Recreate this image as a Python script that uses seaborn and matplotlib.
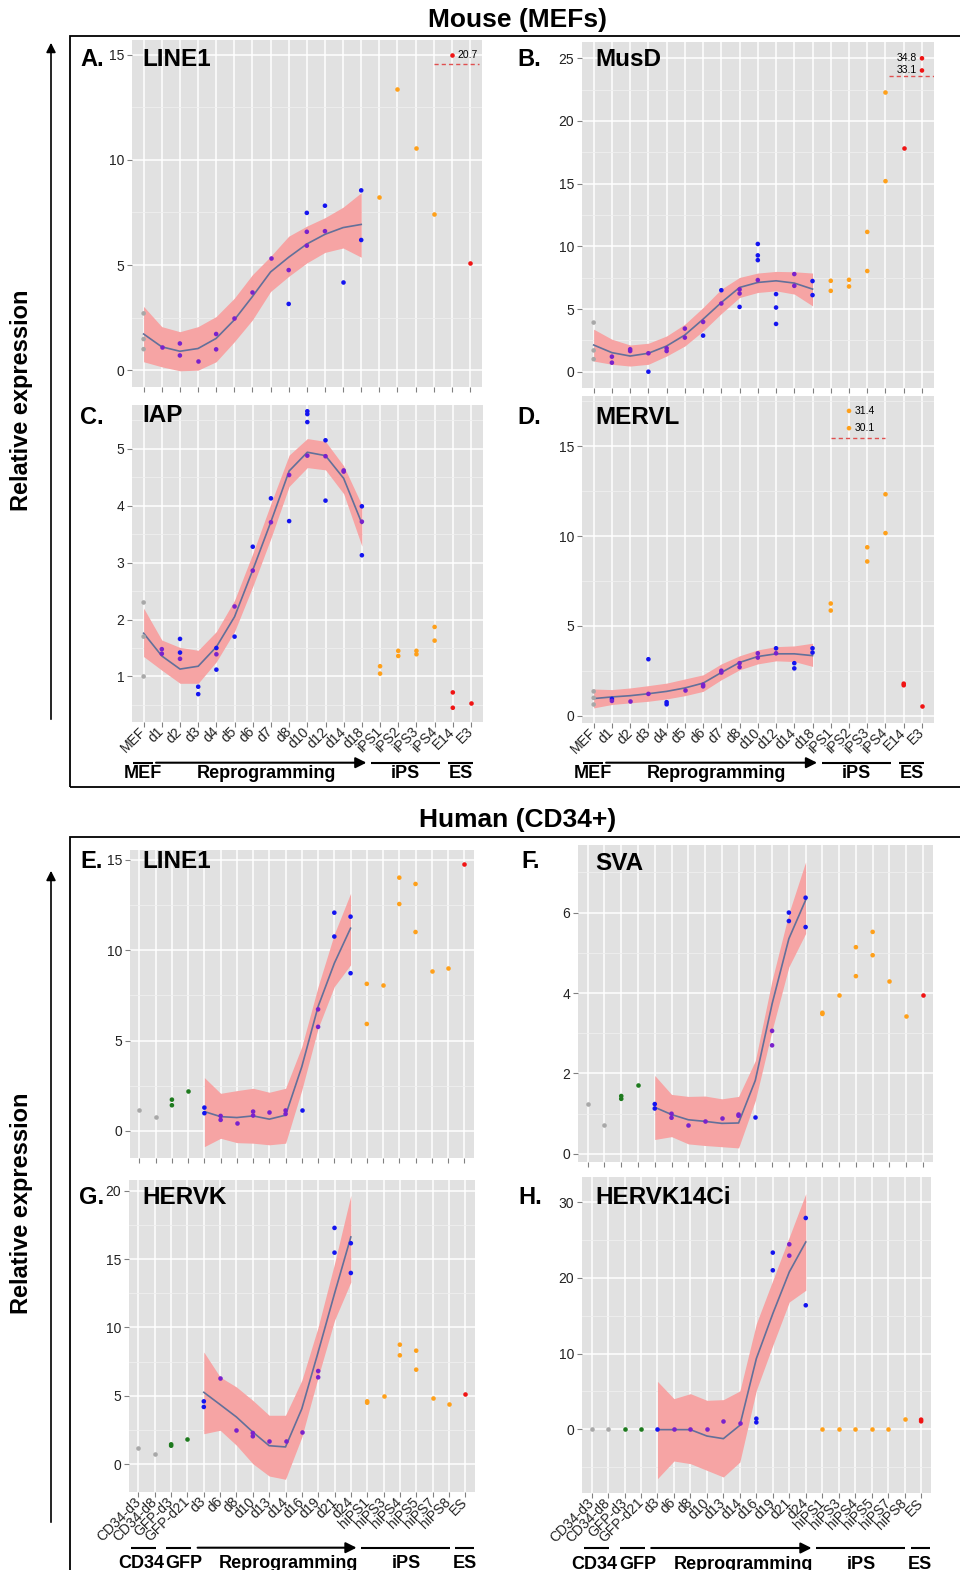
import numpy as np
import pandas as pd
import matplotlib
matplotlib.use("Agg")
import matplotlib.pyplot as plt
from matplotlib.patches import Rectangle, FancyArrowPatch
from matplotlib.ticker import MultipleLocator
import seaborn as sns

plt.rcParams['font.family'] = ['Liberation Sans', 'DejaVu Sans']

W, H = 960, 1570

mouse_cats = ["MEF", "d1", "d2", "d3", "d4", "d5", "d6", "d7", "d8", "d10", "d12",
              "d14", "d18", "iPS1", "iPS2", "iPS3", "iPS4", "E14", "E3"]
human_cats = ["CD34-d3", "CD34-d8", "GFP-d3", "GFP-d21", "d3", "d6", "d8", "d10", "d13",
              "d14", "d16", "d19", "d21", "d24", "hiPS1", "hiPS3", "hiPS4", "hiPS5",
              "hiPS7", "hiPS8", "ES"]
mouse_fit_from = "MEF"   # loess fit spans MEF..d18
human_fit_from = "d3"    # loess fit spans d3..d24

palette = {"mef": "#A8A8A8", "gfp": "#1E7A1E", "p": "#7A22CC", "b": "#1414F0",
           "ips": "#FFA01A", "es": "#F01414"}

# ---- A. LINE1 (mouse)
a_pts = [("MEF", 2.70, "mef"), ("MEF", 1.48, "mef"), ("MEF", 1.00, "mef"),
         ("d1", 1.10, "p"), ("d2", 1.27, "p"), ("d2", 0.70, "p"), ("d3", 0.45, "p"),
         ("d4", 1.72, "p"), ("d4", 0.99, "p"), ("d5", 2.47, "p"), ("d6", 3.71, "p"),
         ("d7", 5.33, "p"), ("d8", 4.76, "p"), ("d8", 3.15, "b"),
         ("d10", 7.48, "b"), ("d10", 6.58, "p"), ("d10", 5.92, "p"),
         ("d12", 7.82, "b"), ("d12", 6.61, "p"), ("d14", 4.19, "b"),
         ("d18", 8.55, "b"), ("d18", 6.19, "b"),
         ("iPS1", 8.23, "ips"), ("iPS2", 13.36, "ips"), ("iPS3", 10.56, "ips"),
         ("iPS4", 7.44, "ips"), ("E14", 15.0, "es"), ("E3", 5.10, "es")]
a_fit = [1.72, 1.11, 0.90, 1.03, 1.51, 2.39, 3.50, 4.67, 5.37, 6.00, 6.46, 6.78, 6.93]
a_hi = [3.03, 2.07, 1.83, 2.07, 2.55, 3.42, 4.54, 5.41, 6.37, 6.85, 7.25, 7.75, 8.44]
a_lo = [0.40, 0.16, -0.03, 0.00, 0.40, 1.35, 2.39, 3.74, 4.46, 5.10, 5.60, 5.81, 5.37]

# ---- B. MusD (mouse)
b_pts = [("MEF", 3.92, "mef"), ("MEF", 1.70, "mef"), ("MEF", 1.00, "mef"),
         ("d1", 1.20, "p"), ("d1", 0.72, "p"), ("d2", 1.79, "p"), ("d2", 1.65, "p"),
         ("d3", 1.47, "p"), ("d3", 0.00, "b"), ("d4", 1.87, "p"), ("d4", 1.65, "p"),
         ("d5", 3.44, "p"), ("d5", 2.72, "p"), ("d6", 3.97, "p"), ("d6", 2.88, "b"),
         ("d7", 6.50, "b"), ("d7", 5.44, "p"),
         ("d8", 6.56, "p"), ("d8", 6.24, "p"), ("d8", 5.17, "b"),
         ("d10", 10.19, "b"), ("d10", 9.28, "b"), ("d10", 8.90, "b"), ("d10", 7.31, "p"),
         ("d12", 6.19, "b"), ("d12", 5.12, "b"), ("d12", 3.81, "b"),
         ("d14", 7.79, "p"), ("d14", 6.85, "p"), ("d18", 7.23, "b"), ("d18", 6.11, "b"),
         ("iPS1", 7.25, "ips"), ("iPS1", 6.45, "ips"), ("iPS2", 7.33, "ips"),
         ("iPS2", 6.80, "ips"), ("iPS3", 11.15, "ips"), ("iPS3", 8.03, "ips"),
         ("iPS4", 22.27, "ips"), ("iPS4", 15.20, "ips"), ("E14", 17.87, "es"),
         ("E3", 25.0, "es"), ("E3", 24.03, "es")]
b_fit = [2.13, 1.52, 1.25, 1.47, 2.05, 2.93, 4.19, 5.52, 6.72, 7.12, 7.25, 7.07, 6.59]
b_hi = [3.39, 2.59, 2.13, 2.27, 2.85, 3.79, 5.12, 6.59, 7.52, 7.87, 8.00, 7.97, 7.87]
b_lo = [0.85, 0.59, 0.45, 0.59, 1.25, 2.05, 3.25, 4.64, 5.92, 6.32, 6.45, 6.19, 5.25]

# ---- C. IAP (mouse)
c_pts = [("MEF", 2.30, "mef"), ("MEF", 1.70, "mef"), ("MEF", 1.00, "mef"),
         ("d1", 1.48, "p"), ("d1", 1.40, "p"),
         ("d2", 1.66, "b"), ("d2", 1.42, "b"), ("d2", 1.31, "p"),
         ("d3", 0.82, "b"), ("d3", 0.69, "b"),
         ("d4", 1.50, "b"), ("d4", 1.39, "p"), ("d4", 1.12, "b"),
         ("d5", 2.23, "p"), ("d5", 1.70, "b"), ("d6", 3.28, "b"), ("d6", 2.86, "p"),
         ("d7", 4.13, "b"), ("d7", 3.71, "p"), ("d8", 4.54, "p"), ("d8", 3.73, "b"),
         ("d10", 5.66, "b"), ("d10", 5.61, "b"), ("d10", 5.47, "b"), ("d10", 4.88, "p"),
         ("d12", 5.15, "b"), ("d12", 4.87, "p"), ("d12", 4.09, "b"),
         ("d14", 4.62, "p"), ("d14", 4.60, "p"),
         ("d18", 3.99, "b"), ("d18", 3.72, "p"), ("d18", 3.13, "b"),
         ("iPS1", 1.18, "ips"), ("iPS1", 1.05, "ips"), ("iPS2", 1.45, "ips"),
         ("iPS2", 1.36, "ips"), ("iPS3", 1.45, "ips"), ("iPS3", 1.39, "ips"),
         ("iPS4", 1.87, "ips"), ("iPS4", 1.63, "ips"),
         ("E14", 0.72, "es"), ("E14", 0.45, "es"), ("E3", 0.54, "es")]
c_fit = [1.76, 1.36, 1.13, 1.18, 1.52, 2.05, 2.87, 3.72, 4.61, 4.94, 4.88, 4.48, 3.69]
c_hi = [2.20, 1.64, 1.51, 1.46, 1.79, 2.34, 3.16, 4.04, 4.89, 5.18, 5.13, 4.70, 4.01]
c_lo = [1.35, 1.11, 0.88, 0.88, 1.26, 1.79, 2.58, 3.43, 4.34, 4.67, 4.63, 4.21, 3.29]

# ---- D. MERVL (mouse)
d_pts = [("MEF", 1.36, "mef"), ("MEF", 1.00, "mef"), ("MEF", 0.63, "mef"),
         ("d1", 0.94, "b"), ("d1", 0.83, "p"), ("d2", 0.81, "p"),
         ("d3", 3.15, "b"), ("d3", 1.22, "p"), ("d4", 0.76, "b"), ("d4", 0.64, "b"),
         ("d5", 1.42, "p"), ("d6", 1.73, "p"), ("d6", 1.64, "p"),
         ("d7", 2.51, "p"), ("d7", 2.41, "p"), ("d8", 2.93, "p"), ("d8", 2.71, "p"),
         ("d10", 3.48, "p"), ("d10", 3.24, "p"), ("d12", 3.76, "b"), ("d12", 3.48, "p"),
         ("d14", 2.93, "b"), ("d14", 2.64, "b"), ("d18", 3.76, "b"), ("d18", 3.52, "b"),
         ("iPS1", 6.25, "ips"), ("iPS1", 5.86, "ips"),
         ("iPS2", 16.97, "ips"), ("iPS2", 16.01, "ips"),
         ("iPS3", 9.38, "ips"), ("iPS3", 8.59, "ips"),
         ("iPS4", 12.33, "ips"), ("iPS4", 10.17, "ips"),
         ("E14", 1.79, "es"), ("E14", 1.70, "es"), ("E3", 0.53, "es")]
d_fit = [0.96, 1.05, 1.12, 1.23, 1.36, 1.55, 1.82, 2.41, 2.97, 3.30, 3.45, 3.45, 3.35]
d_hi = [1.49, 1.46, 1.55, 1.68, 1.82, 2.05, 2.28, 2.89, 3.34, 3.67, 3.85, 3.89, 4.04]
d_lo = [0.44, 0.63, 0.72, 0.81, 0.94, 1.12, 1.36, 2.01, 2.56, 2.89, 3.06, 3.02, 2.75]

# ---- E. LINE1 (human)
e_pts = [("CD34-d3", 1.13, "mef"), ("CD34-d8", 0.76, "mef"),
         ("GFP-d3", 1.73, "gfp"), ("GFP-d3", 1.42, "gfp"), ("GFP-d21", 2.23, "gfp"),
         ("d3", 1.29, "b"), ("d3", 0.98, "b"), ("d6", 0.83, "p"), ("d6", 0.61, "p"),
         ("d8", 0.42, "p"), ("d10", 1.07, "p"), ("d10", 0.85, "p"), ("d13", 1.07, "p"),
         ("d14", 1.13, "p"), ("d14", 0.94, "p"), ("d16", 1.14, "b"),
         ("d19", 6.73, "p"), ("d19", 5.76, "p"), ("d21", 12.08, "b"), ("d21", 10.76, "b"),
         ("d24", 11.86, "b"), ("d24", 8.73, "b"),
         ("hiPS1", 8.14, "ips"), ("hiPS1", 5.92, "ips"), ("hiPS3", 8.08, "ips"),
         ("hiPS4", 14.02, "ips"), ("hiPS4", 12.56, "ips"),
         ("hiPS5", 13.67, "ips"), ("hiPS5", 11.01, "ips"),
         ("hiPS7", 8.84, "ips"), ("hiPS8", 9.04, "ips"), ("ES", 14.76, "es")]
e_fit = [1.07, 0.79, 0.74, 0.83, 0.65, 0.87, 3.56, 6.88, 9.28, 11.22]
e_hi = [2.95, 2.08, 2.23, 2.36, 2.14, 2.36, 4.67, 7.99, 10.90, 13.15]
e_lo = [-0.87, -0.41, -0.65, -0.68, -0.77, -0.68, 2.27, 5.68, 7.99, 9.19]

# ---- F. SVA (human)
f_pts = [("CD34-d3", 1.23, "mef"), ("CD34-d8", 0.72, "mef"),
         ("GFP-d3", 1.44, "gfp"), ("GFP-d3", 1.37, "gfp"), ("GFP-d21", 1.72, "gfp"),
         ("d3", 1.24, "b"), ("d3", 1.13, "b"), ("d6", 1.00, "p"), ("d6", 0.90, "p"),
         ("d8", 0.73, "p"), ("d10", 0.82, "p"), ("d13", 0.90, "p"),
         ("d14", 0.98, "p"), ("d14", 0.95, "p"), ("d16", 0.91, "b"),
         ("d19", 3.06, "p"), ("d19", 2.70, "p"), ("d21", 6.00, "b"), ("d21", 5.79, "b"),
         ("d24", 6.37, "b"), ("d24", 5.64, "b"),
         ("hiPS1", 3.51, "ips"), ("hiPS1", 3.48, "ips"), ("hiPS3", 3.96, "ips"),
         ("hiPS4", 5.14, "ips"), ("hiPS4", 4.42, "ips"),
         ("hiPS5", 5.52, "ips"), ("hiPS5", 4.94, "ips"),
         ("hiPS7", 4.31, "ips"), ("hiPS8", 3.43, "ips"), ("ES", 3.95, "es")]
f_fit = [1.16, 0.98, 0.85, 0.81, 0.76, 0.77, 1.83, 3.73, 5.35, 6.31]
f_hi = [1.95, 1.48, 1.43, 1.44, 1.37, 1.43, 2.32, 4.32, 5.98, 7.26]
f_lo = [0.36, 0.43, 0.25, 0.21, 0.18, 0.15, 1.33, 3.07, 4.65, 5.48]

# ---- G. HERVK (human)
g_pts = [("CD34-d3", 1.17, "mef"), ("CD34-d8", 0.73, "mef"),
         ("GFP-d3", 1.44, "gfp"), ("GFP-d3", 1.34, "gfp"), ("GFP-d21", 1.86, "gfp"),
         ("d3", 4.59, "b"), ("d3", 4.18, "b"), ("d6", 6.30, "p"), ("d8", 2.52, "p"),
         ("d10", 2.27, "p"), ("d10", 2.03, "p"), ("d13", 1.66, "p"), ("d14", 1.66, "p"),
         ("d16", 2.32, "p"), ("d19", 6.81, "p"), ("d19", 6.35, "p"),
         ("d21", 17.29, "b"), ("d21", 15.48, "b"), ("d24", 16.17, "b"), ("d24", 13.99, "b"),
         ("hiPS1", 4.59, "ips"), ("hiPS1", 4.49, "ips"), ("hiPS3", 4.98, "ips"),
         ("hiPS4", 8.74, "ips"), ("hiPS4", 7.96, "ips"),
         ("hiPS5", 8.30, "ips"), ("hiPS5", 6.91, "ips"),
         ("hiPS7", 4.81, "ips"), ("hiPS8", 4.42, "ips"), ("ES", 5.15, "es")]
g_fit = [5.25, 4.35, 3.44, 2.34, 1.34, 1.25, 4.05, 8.20, 12.48, 16.63]
g_hi = [8.20, 6.37, 5.64, 4.66, 3.57, 3.57, 6.13, 10.04, 14.68, 19.68]
g_lo = [2.22, 2.47, 1.37, 0.02, -0.88, -1.12, 1.98, 6.37, 10.52, 13.33]

# ---- H. HERVK14Ci (human)
h_pts = [("CD34-d3", 0.0, "mef"), ("CD34-d8", 0.0, "mef"),
         ("GFP-d3", 0.0, "gfp"), ("GFP-d21", 0.0, "gfp"),
         ("d3", 0.0, "b"), ("d6", 0.0, "p"), ("d8", 0.0, "p"), ("d10", 0.10, "p"),
         ("d13", 1.10, "p"), ("d14", 0.88, "p"), ("d16", 1.41, "b"), ("d16", 0.92, "b"),
         ("d19", 23.32, "b"), ("d19", 20.99, "b"), ("d21", 24.42, "p"), ("d21", 22.92, "p"),
         ("d24", 27.89, "b"), ("d24", 16.37, "b"),
         ("hiPS1", 0.0, "ips"), ("hiPS3", 0.0, "ips"), ("hiPS4", 0.0, "ips"),
         ("hiPS5", 0.0, "ips"), ("hiPS7", 0.0, "ips"), ("hiPS8", 1.32, "ips"),
         ("ES", 1.28, "es"), ("ES", 1.06, "es")]
h_fit = [-0.04, -0.04, -0.04, -0.88, -1.23, 0.53, 9.33, 15.27, 20.77, 24.72]
h_hi = [6.33, 4.05, 4.71, 3.83, 3.92, 5.06, 13.95, 19.67, 25.38, 31.10]
h_lo = [-6.51, -4.18, -4.53, -5.41, -6.29, -4.31, 5.15, 11.09, 16.81, 18.35]

# off-scale values written next to the capped points
a_notes = [("E14", 15.0, "20.7", "right")]
b_notes = [("E3", 25.0, "34.8", "left"), ("E3", 24.03, "33.1", "left")]
d_notes = [("iPS2", 16.97, "31.4", "right"), ("iPS2", 16.01, "30.1", "right")]

mouse_groups = [("MEF", -0.6, 0.5, -0.05, False), ("Reprogramming", 0.68, 12.25, 6.75, True),
                ("iPS", 12.5, 16.3, 14.4, False), ("ES", 16.72, 18.1, 17.45, False)]
human_groups = [("CD34", -0.45, 1.08, 0.15, False), ("GFP", 1.7, 3.22, 2.8, False),
                ("Reprogramming", 3.62, 13.35, 9.2, True), ("iPS", 13.65, 19.05, 16.4, False),
                ("ES", 19.38, 20.55, 19.95, False)]


def fig_rect(x0, y0, x1, y1):
    return [x0 / W, 1 - y1 / H, (x1 - x0) / W, (y1 - y0) / H]


def draw_panel(box, cats, pts, fit_from, fit, hi, lo, ylim, ystep, xlim, labels,
               notes=(), dash=None, groups=None, group_px=None):
    fig_ax = fig.add_axes(fig_rect(*box))
    ax = fig_ax
    ax.set_facecolor("#E1E1E1")
    df = pd.DataFrame(pts, columns=["cat", "val", "grp"])

    # loess ribbon + line
    start = cats.index(fit_from)
    xs = np.arange(start, start + len(fit))
    ax.fill_between(xs, lo, hi, color="#F6A4A4", lw=0, zorder=2)
    sns.lineplot(x=xs, y=fit, color="#62709A", lw=1.2, ax=ax, zorder=3)

    sns.stripplot(data=df, x="cat", y="val", hue="grp", order=cats, palette=palette,
                  jitter=False, size=3.3, linewidth=0, legend=False, ax=ax, zorder=4)

    for cat, v, txt, side in notes:
        off = 4 if side == "right" else -4
        ax.annotate(txt, (cats.index(cat), v), xytext=(off, 0), textcoords="offset points",
                    ha="left" if side == "right" else "right", va="center", fontsize=7.5)
    if dash:
        ax.hlines(dash[0], dash[1], dash[2], colors="#E05050", linestyles=(0, (3, 2.2)),
                  lw=1.0, zorder=3)

    ax.set_xlim(*xlim)
    ax.set_ylim(*ylim)
    ax.set_xticks(range(len(cats)))
    ax.yaxis.set_major_locator(MultipleLocator(ystep))
    ax.yaxis.set_minor_locator(MultipleLocator(ystep / 2))
    ax.set_axisbelow(True)
    ax.grid(True, which="major", color="white", lw=1.1)
    ax.grid(True, which="minor", axis="y", color="#EFEFEF", lw=0.6)
    ax.tick_params(which="major", length=3.5, width=0.8, color="#808080",
                   labelsize=10, labelcolor="#222222", pad=2)
    ax.tick_params(which="minor", length=0)
    for s in ax.spines.values():
        s.set_visible(False)
    ax.set_xlabel("")
    ax.set_ylabel("")
    if labels:
        ax.set_xticklabels(cats, rotation=45, ha="right", va="center",
                           rotation_mode="anchor")
    else:
        ax.set_xticklabels([])

    if groups:
        y_line = (box[3] - group_px[0]) / (box[3] - box[1])
        y_text = (box[3] - group_px[1]) / (box[3] - box[1])
        tr = ax.get_xaxis_transform()
        for name, x0, x1, xt, arrow in groups:
            if arrow:
                ax.annotate("", xy=(x1, y_line), xytext=(x0, y_line), xycoords=tr,
                            textcoords=tr, annotation_clip=False,
                            arrowprops=dict(arrowstyle="-|>", lw=1.5, color="black",
                                            mutation_scale=16, shrinkA=0, shrinkB=0))
            else:
                ax.plot([x0, x1], [y_line, y_line], transform=tr, clip_on=False,
                        color="black", lw=1.5, solid_capstyle="butt")
            ax.text(xt, y_text, name, transform=tr, ha="center", va="top",
                    fontsize=13, fontweight="bold")
    return ax


fig = plt.figure(figsize=(W / 100, H / 100), dpi=100)

mx = (-0.64, 18.66)
hx = (-0.58, 20.6)

draw_panel((132, 40, 482, 387), mouse_cats, a_pts, mouse_fit_from, a_fit, a_hi, a_lo,
           (-0.8, 15.7), 5, mx, False, a_notes, (14.54, 16.0, 18.5))
draw_panel((582, 42, 934, 388), mouse_cats, b_pts, mouse_fit_from, b_fit, b_hi, b_lo,
           (-1.3, 26.3), 5, mx, False, b_notes, (23.6, 16.2, 18.66))
draw_panel((132, 405, 483, 722), mouse_cats, c_pts, mouse_fit_from, c_fit, c_hi, c_lo,
           (0.2, 5.77), 1, mx, True, groups=mouse_groups, group_px=(762.7, 765))
draw_panel((582, 396, 934, 723), mouse_cats, d_pts, mouse_fit_from, d_fit, d_hi, d_lo,
           (-0.4, 17.8), 5, mx, True, d_notes, (15.48, 13.0, 16.0),
           groups=mouse_groups, group_px=(762.7, 765))
draw_panel((130, 850, 474, 1158), human_cats, e_pts, human_fit_from, e_fit, e_hi, e_lo,
           (-1.5, 15.55), 5, hx, False)
draw_panel((578, 845, 933, 1162), human_cats, f_pts, human_fit_from, f_fit, f_hi, f_lo,
           (-0.2, 7.68), 2, hx, False)
draw_panel((129, 1180, 475, 1492), human_cats, g_pts, human_fit_from, g_fit, g_hi, g_lo,
           (-2.05, 20.8), 5, hx, True, groups=human_groups, group_px=(1547.7, 1555))
draw_panel((582, 1177, 931, 1493), human_cats, h_pts, human_fit_from, h_fit, h_hi, h_lo,
           (-8.4, 33.3), 10, hx, True, groups=human_groups, group_px=(1548, 1556))

# section titles and frames
fig.text(518 / W, 1 - 20 / H, "Mouse (MEFs)", ha="center", va="center",
         fontsize=19, fontweight="bold")
fig.text(518 / W, 1 - 820 / H, "Human (CD34+)", ha="center", va="center",
         fontsize=19, fontweight="bold")
fig.add_artist(Rectangle((70 / W, 1 - 787 / H), 900 / W, (787 - 36) / H,
                         transform=fig.transFigure, fill=False, lw=1.3, ec="black"))
fig.add_artist(Rectangle((70 / W, 1 - 1580 / H), 900 / W, (1580 - 837) / H,
                         transform=fig.transFigure, fill=False, lw=1.3, ec="black"))

# y-axis arrows and labels
for y0, y1, yt in [(722, 40, 400), (1525, 868, 1203)]:
    fig.add_artist(FancyArrowPatch((51 / W, 1 - y0 / H), (51 / W, 1 - y1 / H),
                                   transform=fig.transFigure, arrowstyle="-|>",
                                   mutation_scale=14, lw=1.2, color="black"))
    fig.text(22 / W, 1 - yt / H, "Relative expression", rotation=90, ha="center",
             va="center", fontsize=17, fontweight="bold")

# panel letters and element names
letters = [("A.", 80, 60), ("B.", 517, 60), ("C.", 80, 417), ("D.", 517, 417),
           ("E.", 80, 862), ("F.", 521, 862), ("G.", 79, 1197), ("H.", 518, 1197)]
names = [("LINE1", 142, 60), ("MusD", 595, 60), ("IAP", 142, 416), ("MERVL", 595, 417),
         ("LINE1", 142, 862), ("SVA", 595, 863), ("HERVK", 142, 1197),
         ("HERVK14Ci", 595, 1197)]
for txt, x, y in letters:
    fig.text(x / W, 1 - y / H, txt, ha="left", va="center", fontsize=17, fontweight="bold")
for txt, x, y in names:
    fig.text(x / W, 1 - y / H, txt, ha="left", va="center", fontsize=17.5,
             fontweight="bold")

fig.savefig("out.png", dpi=100)
